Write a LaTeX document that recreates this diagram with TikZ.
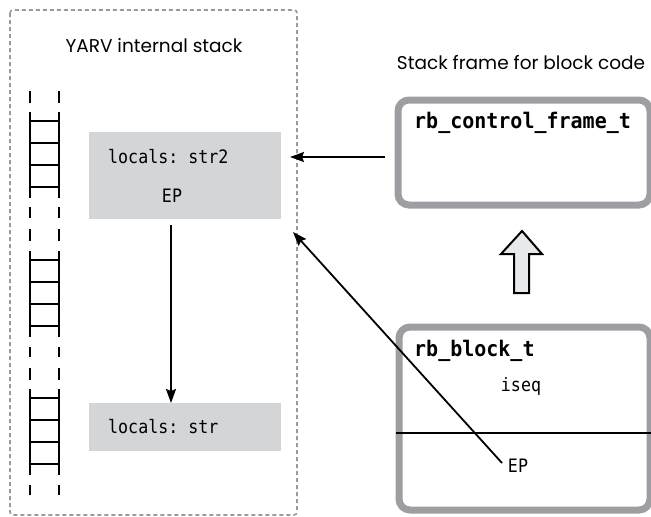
\documentclass[tikz,border=0pt]{standalone}
\usepackage{fontspec}
\usepackage{graphicx}
\setmainfont{Poppins}
\setmonofont{DejaVu Sans Mono}
\usetikzlibrary{arrows.meta}
\definecolor{boxgray}{HTML}{D4D5D7}
\definecolor{framegray}{HTML}{9D9EA1}
\definecolor{dashgray}{HTML}{9A9A9A}
\definecolor{arrowfill}{HTML}{E8E9EA}
\newcommand{\cmono}[1]{\scalebox{0.9}[1]{\fontsize{18.5}{22}\ttfamily\selectfont #1}}
\newcommand{\cmonob}[1]{\scalebox{0.93}[1]{\fontsize{21.5}{24}\ttfamily\bfseries\selectfont #1}}
\tikzset{
  titletext/.style={font=\fontsize{18.5}{22}\selectfont, inner sep=0pt},
  monotext/.style={inner sep=0pt},
  localbox/.style={fill=boxgray, draw=none, inner sep=0pt},
  structbox/.style={draw=framegray, line width=7pt, rounded corners=11pt, inner sep=0pt},
  rail/.style={line width=2.6pt},
  conn/.style={line width=1.8pt, -{Stealth[length=14pt,width=10pt,inset=2pt]}},
}
\begin{document}
\begin{tikzpicture}[x=1pt,y=-1pt]
\useasboundingbox (0,0) rectangle (651,517);
% outer dashed container
\draw[dashgray, line width=1.6pt, dash pattern=on 4pt off 3pt, rounded corners=3pt] (10,10) rectangle (297,515);
\node[titletext] (title) at (154,46) {YARV internal stack};
% ladders
\foreach \s in {112,251,389}{
  \draw[rail] (30,\s) -- (30,\s+86) (59,\s) -- (59,\s+86);
  \foreach \r in {9,31,53,75}{\draw[rail] (30,\s+\r) -- (59,\s+\r);}
}
\foreach \a/\b in {91/103,207/218,229/241,347/357,368/380,485/495}{
  \draw[rail] (30,\a) -- (30,\b) (59,\a) -- (59,\b);
}
% local boxes
\node[localbox, minimum width=192pt, minimum height=87pt, anchor=north west] (env2) at (89,132) {};
\node[monotext, anchor=base west] (str2) at (108,163) {\cmono{locals: str2}};
\node[monotext, anchor=base] (ep2) at (172,202) {\cmono{EP}};
\node[localbox, minimum width=192pt, minimum height=48pt, anchor=north west] (env1) at (89,403) {};
\node[monotext, anchor=base west] (str1) at (108,433) {\cmono{locals: str}};
\draw[conn] (171,225) -- (env1.north -| 171,390);
% right side
\node[titletext, anchor=base] (sftitle) at (521,69) {Stack frame for block code};
\node[structbox, minimum width=252pt, minimum height=105pt, anchor=north west] (cfp) at (394.5,96.5) {};
\node[monotext, anchor=base west] (cfpname) at (414,128) {\cmonob{rb\_control\_frame\_t}};
\node[structbox, minimum width=251pt, minimum height=183pt, anchor=north west] (blk) at (395.5,323.5) {};
\node[monotext, anchor=base west] (blkname) at (414,356) {\cmonob{rb\_block\_t}};
\node[monotext, anchor=base] (iseq) at (521,391) {\cmono{iseq}};
\draw[line width=1.8pt] (blk.west |- 0,433) -- (blk.east |- 0,433);
\node[monotext, anchor=base] (epb) at (518,472) {\cmono{EP}};
\coordinate (cfptip) at (290,157);
\coordinate (eptip) at (293,232);
\coordinate (epstart) at (502,463);
\draw[conn] (cfp.west |- 0,157) ++(-10,0) -- (cfptip);
\draw[conn] (epstart) -- (eptip);
% hollow up arrow
\draw[line width=2pt, fill=arrowfill, line join=miter]
  (522,231) -- (542,254) -- (529,254) -- (529,293) -- (514,293) -- (514,254) -- (501,254) -- cycle;
\end{tikzpicture}
\end{document}
